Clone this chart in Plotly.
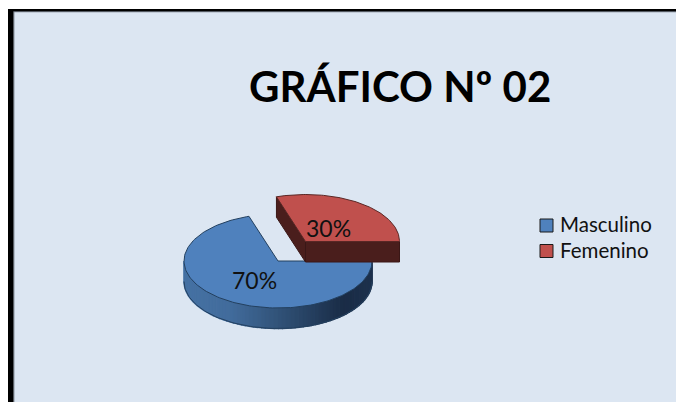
"""
GRÁFICO Nº 02: pastel 3D dibujado con trazos de Plotly
"""

import numpy as np
import plotly.graph_objects as go

# datos
categorias = ['Masculino', 'Femenino']
valores = [70, 30]
etiquetas = ['70%', '30%']
titulo = 'GRÁFICO Nº 02'

AZUL = '#4F81BD'
ROJO = '#C0504D'
PARED_ROJA = '#4A1E1C'
BORDE_AZUL = '#23405F'
BORDE_ROJO = '#5A2725'

RX, RY, ALTO = 94, 47, 20.5
CENTRO_AZUL = (278, 261)
CENTRO_ROJO = (305.5, 241.5)
FONDO = '#DCE6F2'

# angulos de cada sector (el rojo empieza en el este y gira hacia arriba)
giro_rojo = 360 * valores[1] / sum(valores)


def arco(centro, desde, hasta, n=90):
    t = np.radians(np.linspace(desde, hasta, n))
    return centro[0] + RX * np.cos(t), centro[1] - RY * np.sin(t)


def poligono(x, y, color, linea=None, ancho=1):
    return go.Scatter(
        x=list(x), y=list(y), mode='lines', fill='toself', fillcolor=color,
        line=dict(color=linea or color, width=ancho),
        hoverinfo='skip', showlegend=False
    )


def mezcla(f):
    # degradado de la pared azul, de izquierda a derecha
    paradas = np.array([[70, 114, 164], [66, 108, 156], [46, 78, 114], [26, 44, 70], [30, 50, 78]])
    pos = np.array([0.0, 0.25, 0.55, 0.85, 1.0])
    rgb = [np.interp(f, pos, paradas[:, i]) for i in range(3)]
    return 'rgb(%d,%d,%d)' % tuple(rgb)


fig = go.Figure()

# pared curva del sector azul, por tiras verticales
n_tiras = 70
bordes = np.linspace(180, 360, n_tiras + 1)
for i in range(n_tiras):
    ax, ay = arco(CENTRO_AZUL, bordes[i], bordes[i + 1], 4)
    f = (ax.mean() - (CENTRO_AZUL[0] - RX)) / (2 * RX)
    fig.add_trace(poligono(
        np.r_[ax, ax[::-1]], np.r_[ay, ay[::-1] + ALTO], mezcla(f), ancho=1.5
    ))
ax, ay = arco(CENTRO_AZUL, 180, 360)
fig.add_trace(go.Scatter(
    x=ax, y=ay + ALTO, mode='lines', line=dict(color=BORDE_AZUL, width=1),
    hoverinfo='skip', showlegend=False
))

# cara superior azul
ax, ay = arco(CENTRO_AZUL, giro_rojo, 360, 160)
fig.add_trace(poligono(
    np.r_[CENTRO_AZUL[0], ax, CENTRO_AZUL[0]],
    np.r_[CENTRO_AZUL[1], ay, CENTRO_AZUL[1]], AZUL, BORDE_AZUL
))

# paredes del sector rojo
rx, ry = arco(CENTRO_ROJO, 0, giro_rojo)
cx, cy = CENTRO_ROJO
fig.add_trace(poligono(
    [rx[-1], cx, cx, rx[-1], rx[-1]],
    [ry[-1], cy, cy + ALTO, ry[-1] + ALTO, ry[-1]], PARED_ROJA, '#3A1716'
))
fig.add_trace(poligono(
    [cx, rx[0], rx[0], cx, cx], [cy, cy, cy + ALTO, cy + ALTO, cy], PARED_ROJA, '#3A1716'
))

# cara superior roja
fig.add_trace(poligono(
    np.r_[cx, rx, cx], np.r_[cy, ry, cy], ROJO, BORDE_ROJO
))

# leyenda: cuadro como marcador y texto aparte para fijar la separacion
for nombre, color, y_fila in zip(categorias, [AZUL, ROJO], [225.5, 251]):
    fig.add_trace(go.Scatter(
        x=[546.5], y=[y_fila], mode='markers', name=nombre,
        marker=dict(symbol='square', size=13, color=color, line=dict(color='#1A1A1A', width=1)),
        hoverinfo='skip', showlegend=False
    ))
    fig.add_annotation(x=557.5, y=y_fila - 1.5, text=nombre, showarrow=False, xanchor='left',
                       font=dict(size=20.5, color='#111111'))

# etiquetas de porcentaje
fig.add_annotation(x=254.5, y=280, text=etiquetas[0], showarrow=False,
                   font=dict(size=23, color='#111111'))
fig.add_annotation(x=328, y=228, text=etiquetas[1], showarrow=False,
                   font=dict(size=23, color='#111111'))

# titulo
fig.add_annotation(x=399.5, y=86, text='<b>%s</b>' % titulo, showarrow=False,
                   font=dict(size=42, color='#000000'))

# marco negro arriba y a la izquierda
fig.add_shape(type='rect', x0=8, x1=676, y0=9, y1=402, fillcolor=FONDO, line_width=0, layer='below')
fig.add_shape(type='rect', x0=13.5, x1=14.5, y0=11, y1=402, fillcolor='#8A93A0', line_width=0, layer='below')
fig.add_shape(type='rect', x0=13.5, x1=676, y0=11, y1=12.2, fillcolor='#6F7782', line_width=0, layer='below')
fig.add_shape(type='rect', x0=8, x1=13.5, y0=9, y1=402, fillcolor='#000000', line_width=0, layer='below')
fig.add_shape(type='rect', x0=8, x1=676, y0=9, y1=11.2, fillcolor='#000000', line_width=0, layer='below')

fig.update_layout(
    width=676, height=402,
    margin=dict(l=0, r=0, t=0, b=0),
    paper_bgcolor='white', plot_bgcolor='white',
    font=dict(family='Lato, Carlito, sans-serif', color='#111111'),
    showlegend=False,
    xaxis=dict(range=[0, 676], visible=False, fixedrange=True),
    yaxis=dict(range=[402, 0], visible=False, fixedrange=True)
)

# la pagina trae margen de 8 px en el body, lo quitamos
fig.write_html(
    'out.html', config={'displayModeBar': False},
    post_script="document.body.style.margin='0';document.documentElement.style.overflow='hidden';"
)
